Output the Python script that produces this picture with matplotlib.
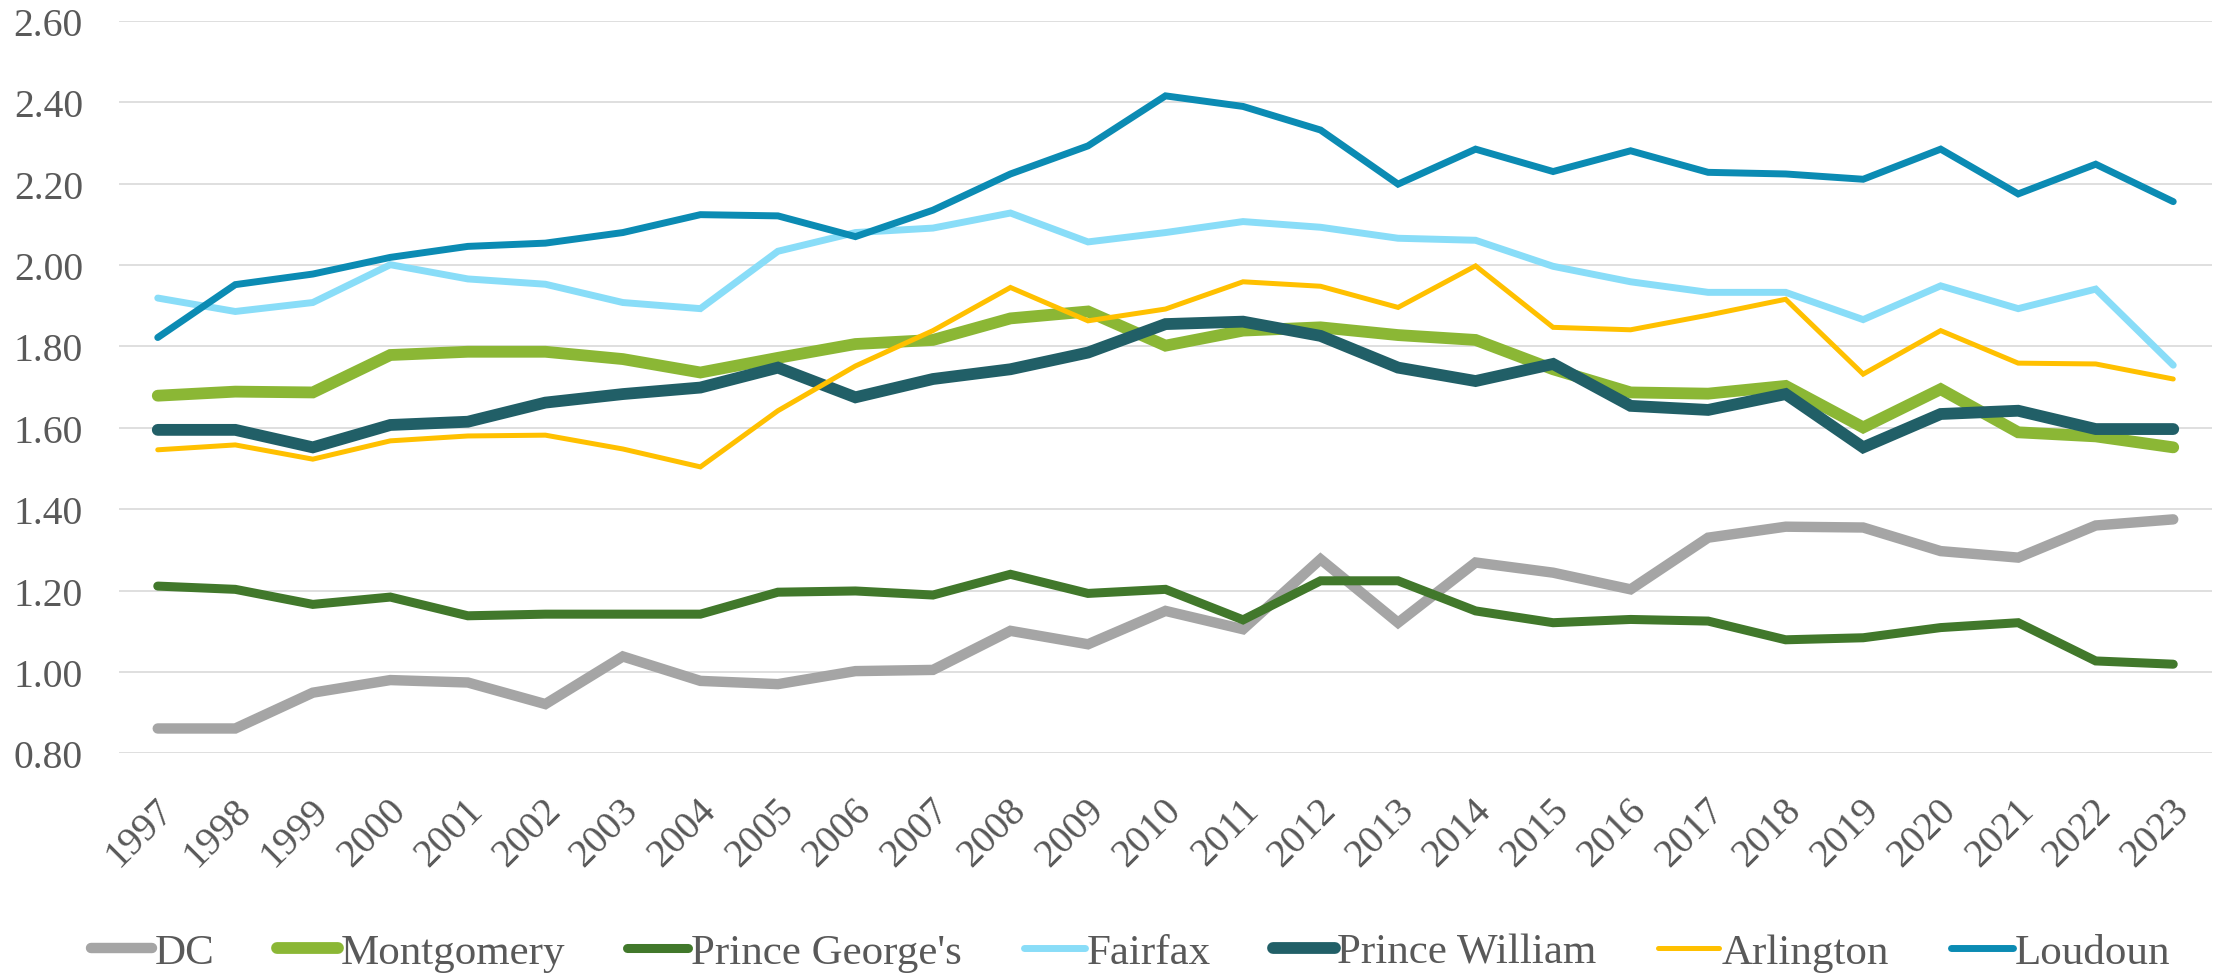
import matplotlib
matplotlib.use("Agg")
import matplotlib.pyplot as plt
from matplotlib.transforms import ScaledTranslation

years = list(range(1997, 2024))
year_labels = [str(y) for y in years]

dc = [0.861, 0.861, 0.949, 0.980, 0.974, 0.921, 1.038, 0.978, 0.970, 1.002, 1.005, 1.101, 1.068, 1.150,
      1.105, 1.277, 1.121, 1.269, 1.244, 1.203, 1.330, 1.357, 1.355, 1.297, 1.281, 1.360, 1.375]
montgomery = [1.679, 1.689, 1.687, 1.779, 1.787, 1.787, 1.769, 1.736, 1.772, 1.806, 1.816, 1.869, 1.886, 1.802,
              1.839, 1.847, 1.828, 1.816, 1.744, 1.687, 1.684, 1.703, 1.601, 1.695, 1.589, 1.579, 1.552]
prince_georges = [1.211, 1.203, 1.166, 1.184, 1.138, 1.142, 1.142, 1.142, 1.196, 1.199, 1.189, 1.240, 1.193, 1.203,
                  1.128, 1.224, 1.224, 1.150, 1.121, 1.129, 1.125, 1.079, 1.084, 1.109, 1.121, 1.027, 1.019]
fairfax = [1.919, 1.886, 1.908, 2.001, 1.966, 1.953, 1.908, 1.893, 2.034, 2.080, 2.091, 2.128, 2.057, 2.080,
           2.107, 2.093, 2.066, 2.061, 1.997, 1.959, 1.933, 1.933, 1.866, 1.949, 1.893, 1.941, 1.754]
prince_william = [1.595, 1.595, 1.552, 1.607, 1.615, 1.662, 1.683, 1.699, 1.748, 1.675, 1.720, 1.744, 1.785, 1.855,
                  1.861, 1.826, 1.748, 1.715, 1.757, 1.654, 1.644, 1.683, 1.552, 1.634, 1.642, 1.597, 1.597]
arlington = [1.546, 1.558, 1.523, 1.568, 1.580, 1.582, 1.548, 1.504, 1.642, 1.752, 1.839, 1.945, 1.863, 1.892,
             1.959, 1.948, 1.896, 1.998, 1.847, 1.841, 1.877, 1.916, 1.732, 1.839, 1.759, 1.757, 1.720]
loudoun = [1.822, 1.952, 1.978, 2.019, 2.046, 2.054, 2.080, 2.124, 2.121, 2.070, 2.135, 2.224, 2.293, 2.416,
           2.390, 2.332, 2.199, 2.285, 2.230, 2.281, 2.228, 2.224, 2.211, 2.285, 2.175, 2.248, 2.156]

series_names = ["DC", "Montgomery", "Prince George's", "Fairfax", "Prince William", "Arlington", "Loudoun"]
series_values = [dc, montgomery, prince_georges, fairfax, prince_william, arlington, loudoun]
colors = ["#A5A5A5", "#8BB735", "#41782B", "#89DDF8", "#215F67", "#FFC000", "#0B8BB3"]
widths = [7.5, 8.5, 6.5, 5.0, 8.5, 3.6, 5.0]

yticks = [0.80, 1.00, 1.20, 1.40, 1.60, 1.80, 2.00, 2.20, 2.40, 2.60]

plt.rcParams['font.family'] = ['Liberation Serif', 'DejaVu Serif']
text_color = "#595959"
fs = 28.5
leg_fs = 31

fig = plt.figure(figsize=(22.2, 9.79), dpi=100)
ax = fig.add_axes([119/2220, 1-754.3/979, (2212-119)/2220, (754.3-22)/979])

x = list(range(len(years)))
for name, vals, c, w in zip(series_names, series_values, colors, widths):
    ax.plot(x, vals, color=c, lw=w, label=name, solid_capstyle='round', solid_joinstyle='miter')

ax.set_xlim(-0.5, len(years) - 0.5)
ax.set_ylim(0.8, 2.6)
ax.set_yticks(yticks)
ax.set_yticklabels([f"{v:.2f}" for v in yticks], fontsize=fs, color=text_color)
ax.set_xticks(x)
ax.set_xticklabels(year_labels, fontsize=fs, color=text_color, rotation=45,
                   ha='right', va='center', rotation_mode='anchor')
ax.tick_params(axis='both', length=0)
ax.tick_params(axis='y', pad=26)
ax.tick_params(axis='x', pad=37)
for lab in ax.get_xticklabels():
    lab.set_transform(lab.get_transform() + ScaledTranslation(10/100, 0, fig.dpi_scale_trans))

ax.grid(axis='y', color='#D9D9D9', lw=1.2)
ax.set_axisbelow(True)
for s in ax.spines.values():
    s.set_visible(False)

leg = fig.legend(loc='center', bbox_to_anchor=(1131/2220, 1-953/979), ncol=7, frameon=False,
                 fontsize=leg_fs, handlelength=1.42, handletextpad=0.06, columnspacing=1.44,
                 labelcolor=text_color)
for h in leg.get_lines():
    h.set_solid_capstyle('round')

fig.savefig("out.png", dpi=100)
